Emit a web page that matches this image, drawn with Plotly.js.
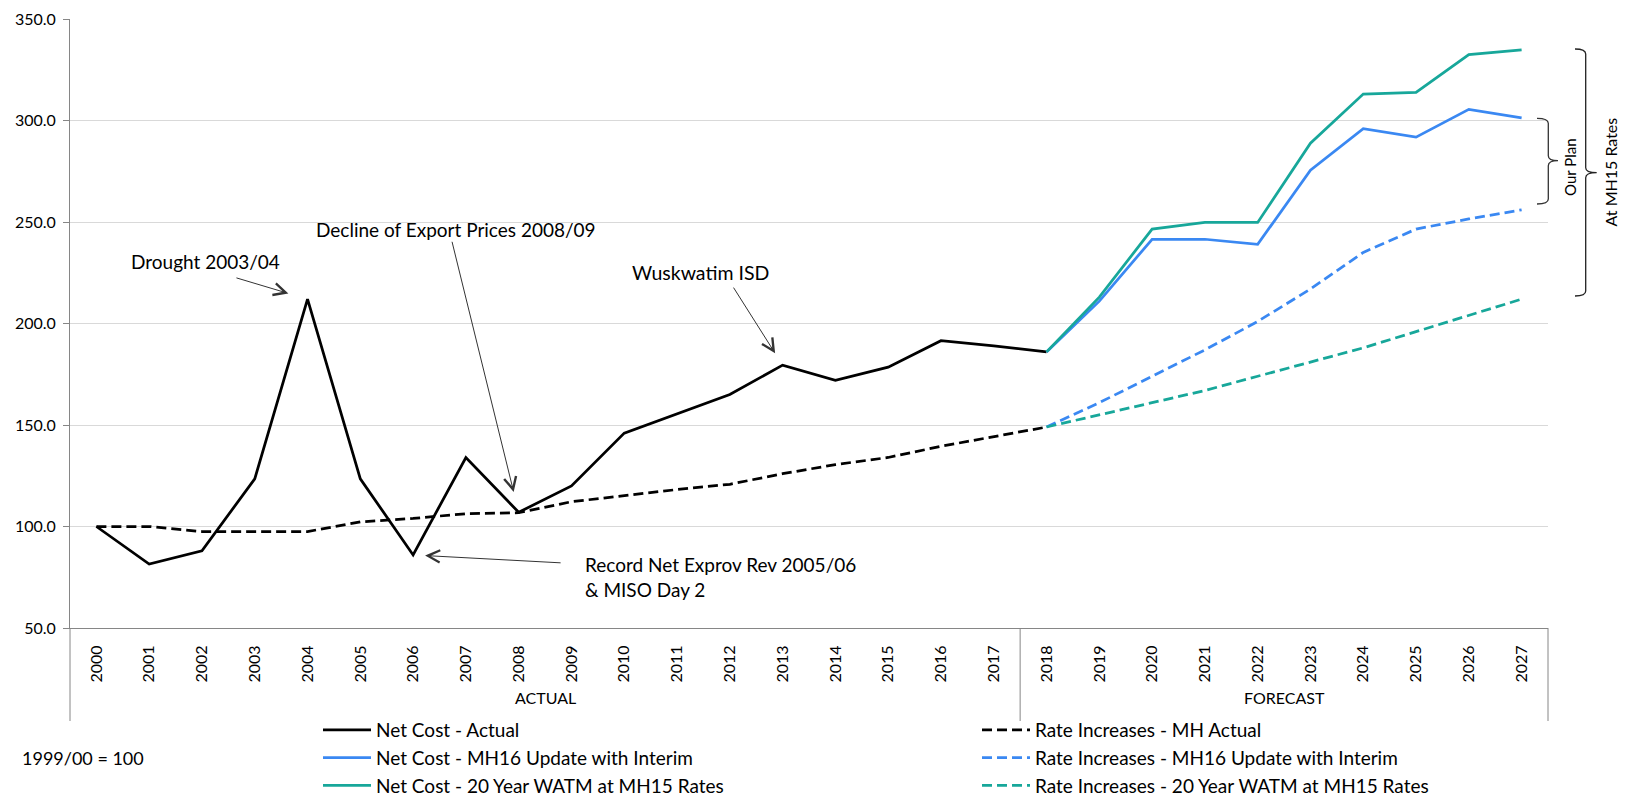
<!DOCTYPE html>
<html><head><meta charset="utf-8">
<script src="https://cdn.plot.ly/plotly-3.0.1.min.js"></script>
<style>html,body{margin:0;padding:0;background:#fff}#chart{width:1631px;height:799px}</style>
</head><body><div id="chart"></div>
<script>
// ---- data ----
const years = ['2000','2001','2002','2003','2004','2005','2006','2007','2008','2009','2010','2011','2012','2013',
               '2014','2015','2016','2017','2018','2019','2020','2021','2022','2023','2024','2025','2026','2027'];
const actualYears = years.slice(0, 19);     // 2000-2018
const forecastYears = years.slice(18);      // 2018-2027
const netCostActual = [100, 81.5, 88, 123.5, 212, 123.5, 86, 134, 107, 120, 146, 155.5, 165, 179.5, 172, 178.5, 191.5, 189, 186];
const rateActual = [100, 100, 97.5, 97.5, 97.5, 102.3, 104, 106.3, 106.8, 112.2, 115.3, 118.2, 120.8, 126, 130.5, 134, 139.5, 144.3, 149];
const netCostMH16 = [186, 211, 241.5, 241.5, 239, 275.5, 296, 291.8, 305.5, 301.3];
const netCost20yr = [186, 213, 246.5, 249.8, 249.8, 288.8, 313, 313.8, 332.5, 334.8];
const rateMH16 = [149, 161, 174, 187, 201, 217, 235, 246.5, 251.5, 256];
const rate20yr = [149, 155, 161, 167, 174, 181, 188, 196, 204, 212];
const yTicks = [50, 100, 150, 200, 250, 300, 350];
const groupLabels = ['ACTUAL', 'FORECAST'];

// ---- geometry helpers (plot area: 70..1548 x, 19..628 y) ----
const L = 70, R = 1548, T = 19, B = 628;
const px = x => (x - L) / (R - L);
const py = y => (B - y) / (B - T);

const BLACK = '#000000', BLUE = '#3A88F2', TEAL = '#17A79A';
const LW = 2.75, DASH = '10px,5px';

const traces = [
  {x: actualYears, y: rateActual, name: 'Rate Increases - MH Actual', mode: 'lines', legend: 'legend2',
   line: {color: BLACK, width: LW, dash: DASH}},
  {x: forecastYears, y: rateMH16, name: 'Rate Increases - MH16 Update with Interim', mode: 'lines', legend: 'legend2',
   line: {color: BLUE, width: LW, dash: DASH}},
  {x: forecastYears, y: rate20yr, name: 'Rate Increases - 20 Year WATM at MH15 Rates', mode: 'lines', legend: 'legend2',
   line: {color: TEAL, width: LW, dash: DASH}},
  {x: actualYears, y: netCostActual, name: 'Net Cost - Actual', mode: 'lines', legend: 'legend',
   line: {color: BLACK, width: LW}},
  {x: forecastYears, y: netCostMH16, name: 'Net Cost - MH16 Update with Interim', mode: 'lines', legend: 'legend',
   line: {color: BLUE, width: LW}},
  {x: forecastYears, y: netCost20yr, name: 'Net Cost - 20 Year WATM at MH15 Rates', mode: 'lines', legend: 'legend',
   line: {color: TEAL, width: LW}}
];

const AX = '#868686', ARROW = '#333333';
const idx = y => years.indexOf(y);

function brace(xv, xh, xt, top, mid, bot) {
  const r = 5 / (B - T);
  return `M ${xh},${top} Q ${xv},${top} ${xv},${top - r} L ${xv},${mid + r} Q ${xv},${mid} ${xt},${mid} ` +
         `Q ${xv},${mid} ${xv},${mid - r} L ${xv},${bot + r} Q ${xv},${bot} ${xh},${bot}`;
}

const shapes = [
  {type: 'line', xref: 'paper', yref: 'paper', x0: 0, x1: 0, y0: 0, y1: py(721), line: {color: AX, width: 1}},
  {type: 'line', xref: 'paper', yref: 'paper', x0: 1, x1: 1, y0: 0, y1: py(721), line: {color: AX, width: 1}},
  {type: 'line', xref: 'x', yref: 'paper', x0: 17.5, x1: 17.5, y0: 0, y1: py(721), line: {color: AX, width: 1}},
  {type: 'path', xref: 'paper', yref: 'paper', line: {color: '#333', width: 1.3},
   path: brace(px(1548.3), px(1537), px(1558), py(118.3), py(160.7), py(204))},
  {type: 'path', xref: 'paper', yref: 'paper', line: {color: '#222', width: 1.3},
   path: brace(px(1585.7), px(1575), px(1596.7), py(49), py(172.7), py(296))}
];

const AF = 19;
// arrows point at a data point (category index on the category axis), tail offset in pixels
function arrow(year, series, ax, ay, standoff) {
  const i = idx(year);
  return {x: i, y: series[i], xref: 'x', yref: 'y', text: '', showarrow: true, ax: ax, ay: ay,
          arrowhead: 5, arrowsize: 2.4, arrowwidth: 1, arrowcolor: ARROW, standoff: standoff};
}
function label(x, y, text, size, extra) {
  return Object.assign({xref: 'paper', yref: 'paper', x: px(x), y: py(y), text: text, showarrow: false,
          font: {size: size, color: '#000'}, xanchor: 'center', yanchor: 'middle'}, extra || {});
}

const annotations = [
  label(205, 261, 'Drought 2003/04', AF),
  arrow('2004', netCostActual, -72.6, -21.7, 20),
  label(456, 229.3, 'Decline of Export Prices 2008/09', AF),
  arrow('2008', netCostActual, -67, -272, 21),
  label(700, 272, 'Wuskwatim ISD', 19.5),
  arrow('2013', netCostActual, -50, -79, 14),
  label(583, 577, 'Record Net Exprov Rev 2005/06<br>& MISO Day 2', AF, {xanchor: 'left', align: 'left'}),
  arrow('2006', netCostActual, 149, 8, 12),
  {xref: 'x', yref: 'paper', x: 8.5, y: py(709), text: groupLabels[0], showarrow: false, font: {size: 16}},
  {xref: 'x', yref: 'paper', x: 22.5, y: py(709), text: groupLabels[1], showarrow: false, font: {size: 16}},
  label(20, 758, '1999/00 = 100', 18, {xanchor: 'left'}),
  label(1570, 167, 'Our Plan', 15, {textangle: -90}),
  label(1610, 172.5, 'At MH15 Rates', 16, {textangle: -90})
];

const layout = {
  width: 1631, height: 799,
  margin: {l: L, r: 1631 - R, t: T, b: 799 - B, pad: 0, autoexpand: false},
  paper_bgcolor: '#fff', plot_bgcolor: '#fff',
  font: {family: 'Lato, "Open Sans", sans-serif', color: '#000', size: 16},
  xaxis: {type: 'category', categoryorder: 'array', categoryarray: years, range: [-0.5, 27.5],
          tickangle: -90, showgrid: false, showline: true, linecolor: AX, linewidth: 1, ticks: '',
          zeroline: false, tickfont: {size: 16}, ticklabelstandoff: 10, fixedrange: true, automargin: false},
  yaxis: {range: [50, 350], tickvals: yTicks, tickformat: '.1f', showgrid: true, gridcolor: '#d9d9d9',
          gridwidth: 1, showline: true, linecolor: AX, linewidth: 1, ticks: 'outside', ticklen: 6,
          tickcolor: AX, zeroline: false, tickfont: {size: 16}, ticklabelstandoff: 4, fixedrange: true, automargin: false},
  legend: {x: px(318), y: py(711), xanchor: 'left', yanchor: 'top', orientation: 'v',
           font: {size: 19}, bgcolor: 'rgba(0,0,0,0)', itemwidth: 48, tracegroupgap: 0, traceorder: 'normal'},
  legend2: {x: px(977), y: py(711), xanchor: 'left', yanchor: 'top', orientation: 'v',
            font: {size: 19}, bgcolor: 'rgba(0,0,0,0)', itemwidth: 48, tracegroupgap: 0, traceorder: 'normal'},
  shapes: shapes,
  annotations: annotations,
  hovermode: false
};

Plotly.newPlot('chart', traces, layout, {displayModeBar: false, staticPlot: true});
</script>
</body></html>
